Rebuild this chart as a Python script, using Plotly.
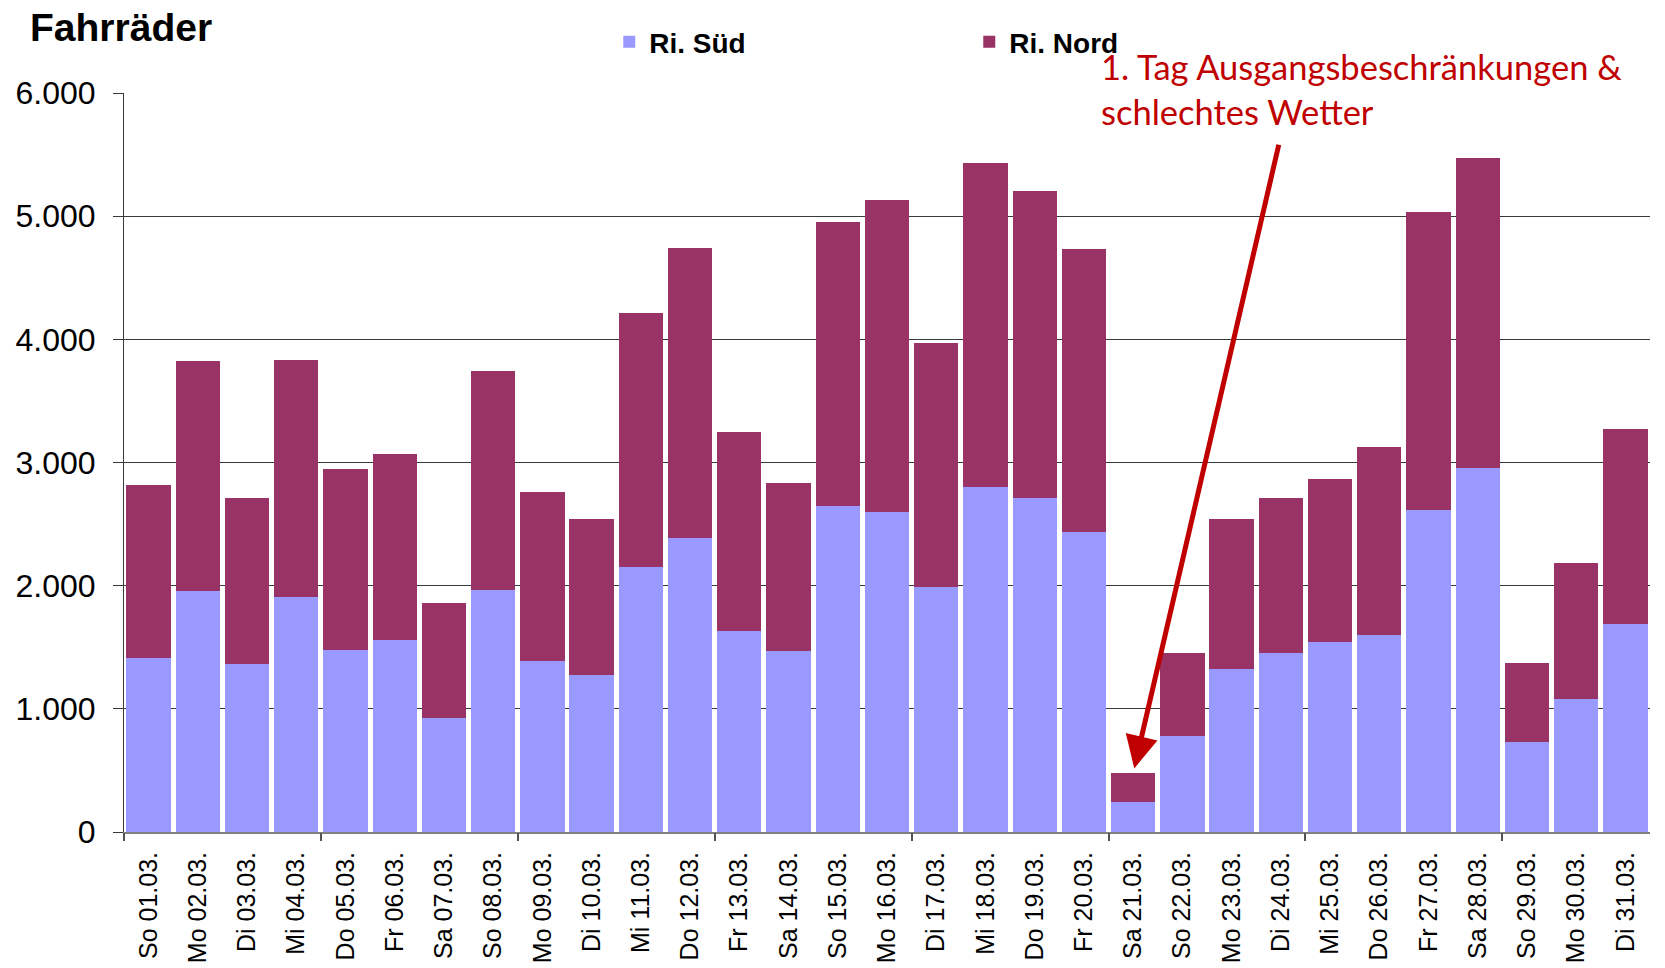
import plotly.graph_objects as go

days = ["So 01.03.", "Mo 02.03.", "Di 03.03.", "Mi 04.03.", "Do 05.03.", "Fr 06.03.", "Sa 07.03.",
        "So 08.03.", "Mo 09.03.", "Di 10.03.", "Mi 11.03.", "Do 12.03.", "Fr 13.03.", "Sa 14.03.",
        "So 15.03.", "Mo 16.03.", "Di 17.03.", "Mi 18.03.", "Do 19.03.", "Fr 20.03.", "Sa 21.03.",
        "So 22.03.", "Mo 23.03.", "Di 24.03.", "Mi 25.03.", "Do 26.03.", "Fr 27.03.", "Sa 28.03.",
        "So 29.03.", "Mo 30.03.", "Di 31.03."]

sued = [1409, 1954, 1366, 1908, 1474, 1556, 924, 1967, 1388, 1274, 2152, 2388, 1631, 1469,
        2648, 2599, 1992, 2799, 2710, 2434, 247, 780, 1322, 1453, 1545, 1596, 2612, 2954,
        734, 1079, 1686]

total = [2821, 3821, 2710, 3829, 2948, 3068, 1862, 3739, 2761, 2545, 4212, 4738, 3251, 2832,
         4953, 5129, 3973, 5433, 5203, 4730, 477, 1450, 2539, 2715, 2867, 3123, 5032, 5474,
         1369, 2182, 3270]

nord = [t - s for t, s in zip(total, sued)]

y_ticks = [0, 1000, 2000, 3000, 4000, 5000, 6000]
group_bounds = [i - 0.5 for i in range(0, len(days), 4)]

FONT = "Liberation Sans, Arial, sans-serif"
C_SUED = "#9999FF"
C_NORD = "#993366"
RED = "#C00000"
GRID = "#3a3a3a"

fig = go.Figure()
fig.add_trace(go.Bar(x=days, y=sued, name="Ri. Süd", marker=dict(color=C_SUED, line=dict(width=0))))
fig.add_trace(go.Bar(x=days, y=nord, name="Ri. Nord", marker=dict(color=C_NORD, line=dict(width=0))))
# helper trace for the group tick marks axis
fig.add_trace(go.Scatter(x=[None], y=[None], xaxis="x2", showlegend=False, hoverinfo="skip"))

fig.update_layout(
    template="none",
    barmode="stack",
    bargap=0.1,
    width=1665, height=968,
    margin=dict(l=124, r=15, t=93, b=136, autoexpand=False),
    plot_bgcolor="white", paper_bgcolor="white",
    separators=",.",
    font=dict(family=FONT, color="black"),
    xaxis=dict(
        type="category",
        tickangle=-90,
        tickfont=dict(size=25, family=FONT, color="black"),
        ticks="",
        showline=True, linecolor="#808080", linewidth=2,
        showgrid=False, zeroline=False,
        ticklabelstandoff=8,
        automargin=False,
        range=[-0.5, len(days) - 0.5],
    ),
    xaxis2=dict(
        overlaying="x", anchor="y",
        range=[-0.5, len(days) - 0.5],
        tickvals=group_bounds,
        ticks="outside", ticklen=8, tickcolor="#555555", tickwidth=1.5,
        showticklabels=False, showgrid=False, showline=False, zeroline=False,
        automargin=False,
    ),
    yaxis=dict(
        range=[0, 6000],
        tickvals=y_ticks,
        tickformat=",d",
        tickfont=dict(size=32, family=FONT, color="black"),
        ticks="outside", ticklen=10, tickcolor=GRID, tickwidth=1,
        showgrid=True, gridcolor=GRID, gridwidth=1,
        showline=True, linecolor=GRID, linewidth=1,
        zeroline=False,
        ticklabelstandoff=11,
        automargin=False,
    ),
    legend=dict(
        orientation="h",
        x=0.318, xanchor="left",
        y=1.069, yanchor="middle",
        font=dict(size=28, family=FONT, color="black", weight="bold"),
        entrywidth=315, entrywidthmode="pixels",
        traceorder="normal",
        bgcolor="rgba(0,0,0,0)",
    ),
    showlegend=True,
)

fig.add_annotation(
    text="<b>Fahrräder</b>",
    xref="paper", yref="paper", x=-0.0629, y=1.0893,
    xanchor="left", yanchor="middle", showarrow=False,
    font=dict(size=39, family=FONT, color="black"),
)

fig.add_annotation(
    text="1. Tag Ausgangsbeschränkungen &<br>schlechtes Wetter",
    xref="paper", yref="paper", x=0.639, y=1.005,
    xanchor="left", yanchor="middle", align="left", showarrow=False,
    font=dict(size=34.5, family="Lato, sans-serif", color=RED),
)

fig.add_annotation(
    text="", x="Sa 21.03.", y=total[20], xref="x", yref="y",
    showarrow=True, ax=146, ay=-630, axref="pixel", ayref="pixel",
    arrowhead=2, arrowsize=1.3, arrowwidth=5, arrowcolor=RED, standoff=5,
)

fig.write_html(
    "out.html",
    config={"displayModeBar": False},
    post_script="document.body.style.margin='0px';document.body.style.overflow='hidden';",
)
